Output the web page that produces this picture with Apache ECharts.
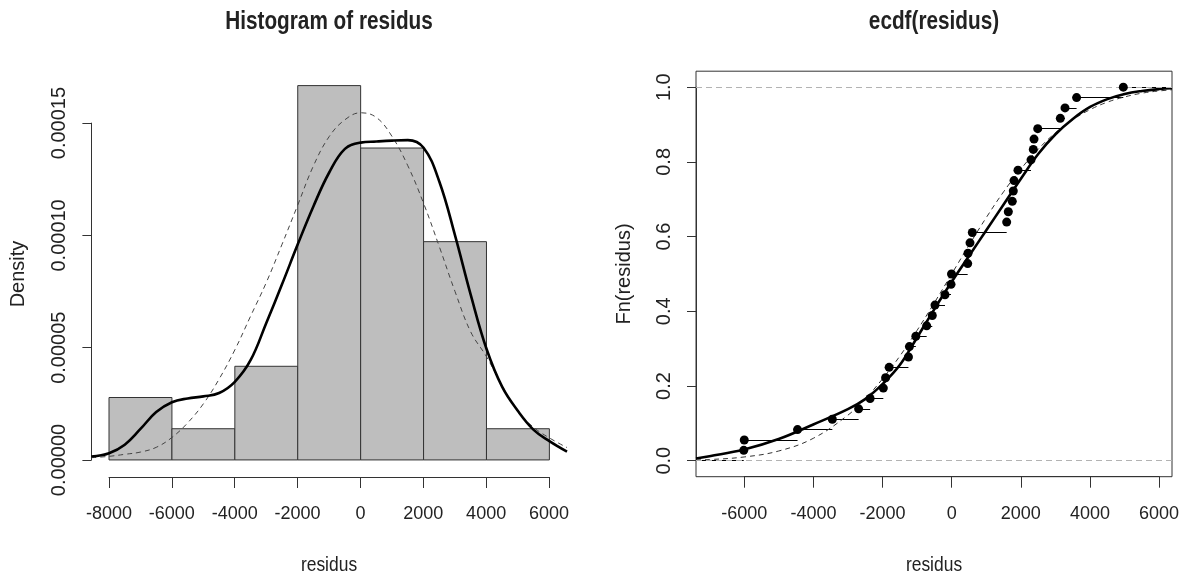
<!DOCTYPE html>
<html>
<head>
<meta charset="utf-8">
<script src="https://cdn.jsdelivr.net/npm/echarts@6/dist/echarts.min.js"></script>
<style>
    html, body { margin: 0; padding: 0; background: #fff; }
    #main { width: 1187px; height: 579px; }
</style>
</head>
<body>
<div id="main"></div>
<script>
var residus = [-6010, -5995, -4455, -3450, -2690, -2358, -1976, -1910, -1808, -1250,
    -1222, -1036, -723, -561, -483, -194, -20, -5, 462, 471,
    529, 596, 1589, 1636, 1751, 1780, 1801, 1916, 2292, 2358,
    2379, 2486, 3139, 3275, 3610, 4960];

// histogramme : bornes des classes et densites
var breaks = [-8000, -6000, -4000, -2000, 0, 2000, 4000, 6000];
var densite = [0.0000278, 0.0000139, 0.0000417, 0.0001667, 0.0001389, 0.0000972, 0.0000139];

// courbes du graphique de gauche (densite noyau en trait plein, loi normale en tirets)
var courbeX = [-8560, -8000, -7500, -7000, -6500, -6000, -5500, -5000, -4500, -4000,
    -3500, -3000, -2500, -2000, -1500, -1000, -500, 0, 500, 1000,
    1500, 2000, 2500, 3000, 3500, 4000, 4500, 5000, 5500, 6000, 6560];
var kde = [1.5e-6, 3.0e-6, 6.8e-6, 1.38e-5, 2.13e-5, 2.57e-5, 2.74e-5, 2.83e-5, 2.98e-5, 3.48e-5,
    4.44e-5, 6.1e-5, 7.82e-5, 9.6e-5, 1.13e-4, 1.28e-4, 1.385e-4, 1.413e-4, 1.418e-4, 1.422e-4,
    1.424e-4, 1.39e-4, 1.24e-4, 1.0e-4, 7.35e-5, 4.95e-5, 3.25e-5, 2.18e-5, 1.34e-5, 8.4e-6, 3.7e-6];
var dnorm = [1.0e-6, 1.6e-6, 2.5e-6, 3.5e-6, 5.6e-6, 1.0e-5, 1.65e-5, 2.5e-5, 3.6e-5, 4.9e-5,
    6.4e-5, 7.9e-5, 9.6e-5, 1.135e-4, 1.31e-4, 1.44e-4, 1.515e-4, 1.546e-4, 1.525e-4, 1.44e-4,
    1.31e-4, 1.143e-4, 9.5e-5, 7.5e-5, 5.7e-5, 4.6e-5, 3.3e-5, 2.15e-5, 1.45e-5, 9.8e-6, 5.5e-6];

// courbes du graphique de droite (fonction de repartition lissee et normale)
var cdfX = [-7390, -7000, -6000, -5000, -4000, -3000, -2500, -2000, -1500, -1000,
    -500, 0, 500, 1000, 1500, 2000, 2500, 3000, 3500, 4000,
    4500, 5000, 5500, 6000, 6367];
var cdfKde = [0.006, 0.012, 0.030, 0.058, 0.097, 0.138, 0.165, 0.205, 0.256, 0.33,
    0.406, 0.479, 0.548, 0.617, 0.686, 0.755, 0.821, 0.874, 0.915, 0.947,
    0.968, 0.982, 0.99, 0.995, 0.997];
var pnorm = [0.002, 0.003, 0.01, 0.026, 0.06, 0.122, 0.166, 0.219, 0.28, 0.349,
    0.423, 0.5, 0.577, 0.651, 0.72, 0.781, 0.834, 0.878, 0.913, 0.94,
    0.96, 0.974, 0.984, 0.99, 0.993];

// graduations
var ticksXL = [-8000, -6000, -4000, -2000, 0, 2000, 4000, 6000];
var ticksYL = [0, 0.00005, 0.0001, 0.00015];
var ticksXR = [-6000, -4000, -2000, 0, 2000, 4000, 6000];
var ticksYR = [0, 0.2, 0.4, 0.6, 0.8, 1.0];

var police = "'Liberation Sans', Arial, sans-serif";

function pairs(xs, ys) {
    return xs.map(function (x, i) { return [x, ys[i]]; });
}

var n = residus.length;
var ecdfPts = residus.map(function (x, i) { return [x, (i + 1) / n]; });
var xMinR = -7390, xMaxR = 6367;
var steps = [{ coords: [[xMinR, 0], [residus[0], 0]] }];
for (var i = 0; i < n; i++) {
    var xEnd = i < n - 1 ? residus[i + 1] : xMaxR;
    steps.push({ coords: [[residus[i], (i + 1) / n], [xEnd, (i + 1) / n]] });
}

function dummyX(g) { return { gridIndex: g, type: 'value', show: false, min: 0, max: 1 }; }
function dummyY(g) { return { gridIndex: g, type: 'value', show: false, min: 0, max: 1 }; }

function axeX(g, ticks, step) {
    return {
        gridIndex: g, type: 'value', position: 'bottom',
        min: ticks[0], max: ticks[ticks.length - 1], interval: step,
        axisLine: { show: true, lineStyle: { color: '#333', width: 1 } },
        axisTick: { show: true, length: 11, lineStyle: { color: '#333', width: 1 } },
        axisLabel: {
            show: true, interval: 0, margin: 28, fontSize: 18, fontFamily: police, color: '#222',
            formatter: function (v) { return String(v); }
        },
        splitLine: { show: false }
    };
}
function axeY(g, ticks, step, dec) {
    return {
        gridIndex: g, type: 'value', position: 'left',
        min: ticks[0], max: ticks[ticks.length - 1], interval: step,
        axisLine: { show: true, lineStyle: { color: '#333', width: 1 } },
        axisTick: { show: true, length: 9, lineStyle: { color: '#333', width: 1 } },
        axisLabel: {
            show: true, interval: 0, rotate: 90, margin: 22, fontSize: 20, fontFamily: police, color: '#222',
            formatter: function (v) { return v.toFixed(dec); }
        },
        splitLine: { show: false }
    };
}

// texte horizontal un peu resserre comme dans la figure R
function texte(str, x, y, font, rot) {
    return {
        type: 'text', x: x, y: y, rotation: rot || 0, scaleX: rot ? 1 : 0.83,
        style: { text: str, font: font, fill: '#222', align: 'center', verticalAlign: 'middle' }
    };
}

var myChart = echarts.init(document.getElementById('main'));

var option = {
    animation: false,
    backgroundColor: '#fff',
    grid: [
        { left: 91.4, top: 71, width: 475.6, height: 406, outerBoundsMode: 'none' },
        { left: 109, top: 476, width: 440, height: 1, outerBoundsMode: 'none' },
        { left: 91.4, top: 123.1, width: 1, height: 336.9, outerBoundsMode: 'none' },
        { left: 696, top: 71.2, width: 476, height: 405.5, outerBoundsMode: 'none',
          show: true, borderColor: '#333', borderWidth: 1, backgroundColor: 'transparent' },
        { left: 744.3, top: 475.7, width: 414.8, height: 1, outerBoundsMode: 'none' },
        { left: 696, top: 87.2, width: 1, height: 373.5, outerBoundsMode: 'none' }
    ],
    xAxis: [
        { gridIndex: 0, type: 'value', show: false, min: -8560, max: 6560 },
        axeX(1, ticksXL, 2000),
        dummyX(2),
        { gridIndex: 3, type: 'value', show: false, min: xMinR, max: xMaxR },
        axeX(4, ticksXR, 2000),
        dummyX(5)
    ],
    yAxis: [
        { gridIndex: 0, type: 'value', show: false, min: -0.0000076, max: 0.0001732 },
        dummyY(1),
        axeY(2, ticksYL, 0.00005, 5),
        { gridIndex: 3, type: 'value', show: false, min: -0.0428, max: 1.0428 },
        dummyY(4),
        axeY(5, ticksYR, 0.2, 1)
    ],
    graphic: [
        texte('Histogram of residus', 329, 22, 'bold 25px ' + police),
        texte('ecdf(residus)', 934, 22, 'bold 25px ' + police),
        texte('Density', 18, 274, '20px ' + police, Math.PI / 2),
        texte('Fn(residus)', 624, 274, '20px ' + police, Math.PI / 2),
        texte('residus', 329, 565, '21px ' + police),
        texte('residus', 934, 565, '21px ' + police)
    ],
    series: [
        // histogramme
        {
            type: 'custom', xAxisIndex: 0, yAxisIndex: 0, z: 1, silent: true,
            data: densite.map(function (d, i) { return [breaks[i], breaks[i + 1], d]; }),
            encode: { x: [0, 1], y: 2 },
            renderItem: function (params, api) {
                var p0 = api.coord([api.value(0), 0]);
                var p1 = api.coord([api.value(1), api.value(2)]);
                return {
                    type: 'rect',
                    shape: { x: p0[0], y: p1[1], width: p1[0] - p0[0], height: p0[1] - p1[1] },
                    style: { fill: '#bebebe', stroke: '#333', lineWidth: 1 }
                };
            }
        },
        {
            type: 'line', xAxisIndex: 0, yAxisIndex: 0, z: 3, smooth: 0.4, showSymbol: false, silent: true,
            data: pairs(courbeX, dnorm),
            lineStyle: { color: '#444', width: 1, type: [5, 4] }
        },
        {
            type: 'line', xAxisIndex: 0, yAxisIndex: 0, z: 4, smooth: 0.4, showSymbol: false, silent: true,
            data: pairs(courbeX, kde),
            lineStyle: { color: '#000', width: 2.6 }
        },
        // ecdf
        {
            type: 'lines', coordinateSystem: 'cartesian2d', xAxisIndex: 3, yAxisIndex: 3, z: 3,
            polyline: false, silent: true, data: steps,
            lineStyle: { color: '#000', width: 1, opacity: 1 }
        },
        {
            type: 'line', xAxisIndex: 3, yAxisIndex: 3, z: 3, smooth: 0.4, showSymbol: false, silent: true,
            data: pairs(cdfX, pnorm),
            lineStyle: { color: '#333', width: 1, type: [5, 4] }
        },
        {
            type: 'line', xAxisIndex: 3, yAxisIndex: 3, z: 4, smooth: 0.4, showSymbol: false, silent: true,
            data: pairs(cdfX, cdfKde),
            lineStyle: { color: '#000', width: 2.6 }
        },
        {
            type: 'scatter', xAxisIndex: 3, yAxisIndex: 3, z: 5, silent: true,
            symbol: 'circle', symbolSize: 9,
            itemStyle: { color: '#000', opacity: 1 },
            data: ecdfPts,
            markLine: {
                silent: true, symbol: 'none', label: { show: false },
                lineStyle: { color: '#b3b3b3', width: 1, type: [6, 4] },
                data: [{ yAxis: 0 }, { yAxis: 1 }]
            }
        }
    ]
};

myChart.setOption(option);
</script>
</body>
</html>
